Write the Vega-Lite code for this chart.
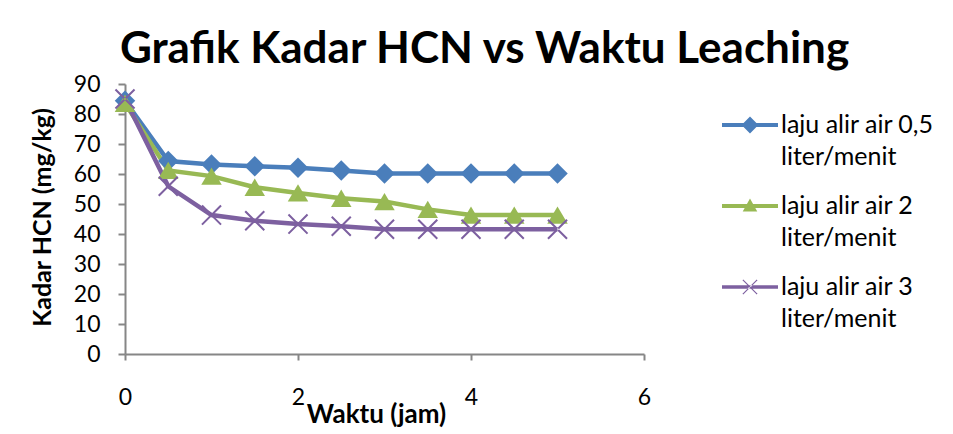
{
  "$schema": "https://vega.github.io/schema/vega-lite/v6.json",
  "width": 519,
  "height": 270,
  "autosize": "none",
  "padding": {"left": 125, "top": 84, "right": 309, "bottom": 80},
  "background": "white",
  "config": {"view": {"stroke": null}, "font": "Lato"},
  "title": {
    "text": "Grafik Kadar HCN vs Waktu Leaching",
    "fontSize": 44,
    "font": "Lato",
    "fontWeight": "bold",
    "anchor": "middle",
    "frame": "group",
    "dx": 100,
    "offset": 1,
    "color": "black"
  },
  "data": {
    "values": [
      {"waktu": 0, "kadar": 84.4, "seri": "laju alir air 0,5 liter/menit"},
      {"waktu": 0.5, "kadar": 64.3, "seri": "laju alir air 0,5 liter/menit"},
      {"waktu": 1, "kadar": 63.2, "seri": "laju alir air 0,5 liter/menit"},
      {"waktu": 1.5, "kadar": 62.6, "seri": "laju alir air 0,5 liter/menit"},
      {"waktu": 2, "kadar": 62.1, "seri": "laju alir air 0,5 liter/menit"},
      {"waktu": 2.5, "kadar": 61.2, "seri": "laju alir air 0,5 liter/menit"},
      {"waktu": 3, "kadar": 60.2, "seri": "laju alir air 0,5 liter/menit"},
      {"waktu": 3.5, "kadar": 60.2, "seri": "laju alir air 0,5 liter/menit"},
      {"waktu": 4, "kadar": 60.2, "seri": "laju alir air 0,5 liter/menit"},
      {"waktu": 4.5, "kadar": 60.2, "seri": "laju alir air 0,5 liter/menit"},
      {"waktu": 5, "kadar": 60.2, "seri": "laju alir air 0,5 liter/menit"},
      {"waktu": 0, "kadar": 83.6, "seri": "laju alir air 2 liter/menit"},
      {"waktu": 0.5, "kadar": 61.2, "seri": "laju alir air 2 liter/menit"},
      {"waktu": 1, "kadar": 59.3, "seri": "laju alir air 2 liter/menit"},
      {"waktu": 1.5, "kadar": 55.6, "seri": "laju alir air 2 liter/menit"},
      {"waktu": 2, "kadar": 53.7, "seri": "laju alir air 2 liter/menit"},
      {"waktu": 2.5, "kadar": 51.9, "seri": "laju alir air 2 liter/menit"},
      {"waktu": 3, "kadar": 50.8, "seri": "laju alir air 2 liter/menit"},
      {"waktu": 3.5, "kadar": 48.2, "seri": "laju alir air 2 liter/menit"},
      {"waktu": 4, "kadar": 46.3, "seri": "laju alir air 2 liter/menit"},
      {"waktu": 4.5, "kadar": 46.3, "seri": "laju alir air 2 liter/menit"},
      {"waktu": 5, "kadar": 46.3, "seri": "laju alir air 2 liter/menit"},
      {"waktu": 0, "kadar": 85.0, "seri": "laju alir air 3 liter/menit"},
      {"waktu": 0.5, "kadar": 55.9, "seri": "laju alir air 3 liter/menit"},
      {"waktu": 1, "kadar": 46.3, "seri": "laju alir air 3 liter/menit"},
      {"waktu": 1.5, "kadar": 44.4, "seri": "laju alir air 3 liter/menit"},
      {"waktu": 2, "kadar": 43.3, "seri": "laju alir air 3 liter/menit"},
      {"waktu": 2.5, "kadar": 42.6, "seri": "laju alir air 3 liter/menit"},
      {"waktu": 3, "kadar": 41.6, "seri": "laju alir air 3 liter/menit"},
      {"waktu": 3.5, "kadar": 41.6, "seri": "laju alir air 3 liter/menit"},
      {"waktu": 4, "kadar": 41.6, "seri": "laju alir air 3 liter/menit"},
      {"waktu": 4.5, "kadar": 41.6, "seri": "laju alir air 3 liter/menit"},
      {"waktu": 5, "kadar": 41.6, "seri": "laju alir air 3 liter/menit"}
    ]
  },
  "encoding": {
    "x": {
      "field": "waktu",
      "type": "quantitative",
      "scale": {"domain": [0, 6], "nice": false},
      "axis": {
        "title": "Waktu (jam)",
        "values": [0, 2, 4, 6],
        "grid": false,
        "domainColor": "#868686",
        "domainWidth": 2,
        "tickColor": "#868686",
        "tickWidth": 2,
        "tickSize": 6,
        "labelFontSize": 23,
        "labelColor": "black",
        "labelPadding": 26,
        "labelFlush": false,
        "titleFontSize": 26,
        "titleFontWeight": "bold",
        "titleColor": "black",
        "titleX": 251,
        "titleY": 60,
        "titleBaseline": "middle",
        "titleAlign": "center"
      }
    },
    "y": {
      "field": "kadar",
      "type": "quantitative",
      "scale": {"domain": [0, 90], "nice": false},
      "axis": {
        "title": "Kadar HCN (mg/kg)",
        "values": [0, 10, 20, 30, 40, 50, 60, 70, 80, 90],
        "grid": false,
        "domainColor": "#868686",
        "domainWidth": 2,
        "tickColor": "#868686",
        "tickWidth": 2,
        "tickSize": 7,
        "labelFontSize": 23,
        "labelColor": "black",
        "labelPadding": 18,
        "labelFlush": false,
        "titleFontSize": 25,
        "titleFontWeight": "bold",
        "titleColor": "black",
        "titleX": -83,
        "titleY": 133,
        "titleAngle": -90,
        "titleBaseline": "middle",
        "titleAlign": "center"
      }
    },
    "color": {
      "field": "seri",
      "type": "nominal",
      "scale": {
        "domain": ["laju alir air 0,5 liter/menit", "laju alir air 2 liter/menit", "laju alir air 3 liter/menit"],
        "range": ["#4a7ebb", "#98b954", "#7d60a0"]
      },
      "legend": {
        "title": null,
        "orient": "right",
        "offset": 65,
        "padding": 13,
        "symbolSize": 3136,
        "symbolStrokeWidth": 0,
        "symbolOpacity": 1,
        "labelFontSize": 25,
        "labelColor": "black",
        "labelLimit": 300,
        "labelOffset": 3,
        "rowPadding": 8,
        "labelExpr": "[replace(datum.label, ' liter/menit', ''), 'liter/menit']",
        "encode": {
          "labels": {
            "update": {
              "lineHeight": {"value": 32}
            }
          }
        }
      }
    }
  },
  "layer": [
    {
      "mark": {"type": "line", "strokeWidth": 4.5}
    },
    {
      "transform": [{"filter": "datum.seri == 'laju alir air 0,5 liter/menit'"}],
      "mark": {"type": "point", "filled": true, "opacity": 1, "size": 420, "shape": "M0,-1L1,0L0,1L-1,0Z"}
    },
    {
      "transform": [{"filter": "datum.seri == 'laju alir air 2 liter/menit'"}],
      "mark": {"type": "point", "filled": true, "opacity": 1, "size": 420, "shape": "M0,-0.85L1,0.85L-1,0.85Z"}
    },
    {
      "transform": [{"filter": "datum.seri == 'laju alir air 3 liter/menit'"}],
      "mark": {"type": "point", "filled": true, "opacity": 1, "size": 420, "shape": "M-1,-0.86L-0.86,-1L1,0.86L0.86,1Z M1,-0.86L0.86,-1L-1,0.86L-0.86,1Z"}
    },
    {
      "transform": [{"filter": "false"}],
      "mark": {"type": "point", "filled": true, "opacity": 1},
      "encoding": {
        "shape": {
          "field": "seri",
          "type": "nominal",
          "scale": {
            "domain": ["laju alir air 0,5 liter/menit", "laju alir air 2 liter/menit", "laju alir air 3 liter/menit"],
            "range": [
              "M-1,-0.07L1,-0.07L1,0.07L-1,0.07Z M0,-0.3L0.3,0L0,0.3L-0.3,0Z",
              "M-1,-0.07L1,-0.07L1,0.07L-1,0.07Z M0,-0.27L0.26,0.2L-0.26,0.2Z",
              "M-1,-0.06L1,-0.06L1,0.06L-1,0.06Z M-0.27,-0.24L-0.24,-0.27L0.27,0.24L0.24,0.27Z M0.27,-0.24L0.24,-0.27L-0.27,0.24L-0.24,0.27Z"
            ]
          }
        }
      }
    }
  ]
}
